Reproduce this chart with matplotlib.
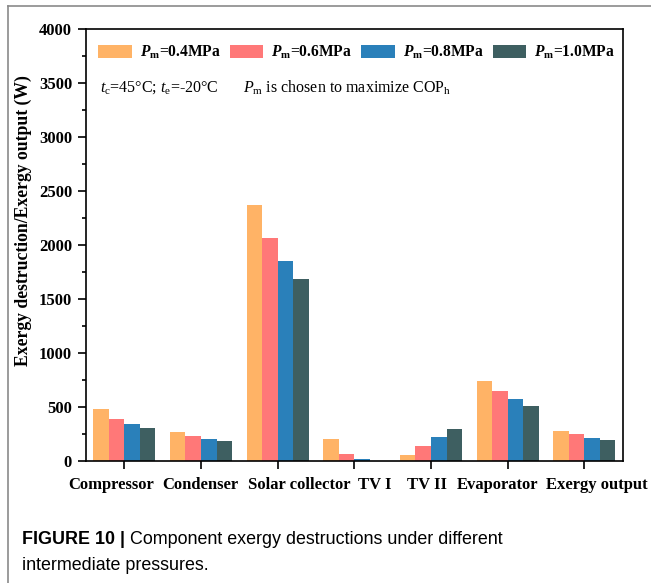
import matplotlib
matplotlib.use("Agg")
import matplotlib.pyplot as plt
from matplotlib.lines import Line2D
from matplotlib.ticker import MultipleLocator
import numpy as np

plt.rcParams['font.family'] = ['Liberation Serif', 'DejaVu Serif']
plt.rcParams['mathtext.fontset'] = 'custom'
plt.rcParams['mathtext.rm'] = 'Liberation Serif'
plt.rcParams['mathtext.it'] = 'Liberation Serif:italic'
plt.rcParams['mathtext.bf'] = 'Liberation Serif:bold'
plt.rcParams['mathtext.bfit'] = 'Liberation Serif:italic:bold'

components = ["Compressor", "Condenser", "Solar collector", "TV I", "TV II",
              "Evaporator", "Exergy output"]
pressures = ["0.4", "0.6", "0.8", "1.0"]

ex_04 = [482, 266, 2376, 204, 58, 738, 282]
ex_06 = [389, 229, 2070, 68, 139, 645, 248]
ex_08 = [340, 207, 1851, 19, 219, 570, 217]
ex_10 = [309, 189, 1684, 0, 297, 511, 198]
series = [ex_04, ex_06, ex_08, ex_10]
colors = ["#FFB366", "#FF7878", "#2A80BA", "#3E5F61"]

W, H = 651, 583
fig = plt.figure(figsize=(W / 100, H / 100), dpi=100)
ax = fig.add_axes([86 / W, 1 - 461 / H, (622.7 - 86) / W, (461 - 29.3) / H])

x = np.arange(len(components))
w = 0.203
for i, (vals, c) in enumerate(zip(series, colors)):
    ax.bar(x + (i - 1.5) * w, vals, w, color=c,
           label=r"$\mathbfit{P}_{\mathbf{m}}$=" + pressures[i] + "MPa")

ax.set_xlim(-0.5, 6.5)
ax.set_ylim(0, 4000)
ax.set_xticks(x)
ax.set_xticklabels([])
ax.yaxis.set_major_locator(MultipleLocator(500))
ax.yaxis.set_minor_locator(MultipleLocator(250))
for lab in ax.get_yticklabels():
    lab.set_fontweight("bold")
    lab.set_fontsize(12)
ax.tick_params(axis="both", which="major", direction="out", length=6, width=1.2, pad=4)
ax.tick_params(axis="y", which="minor", direction="out", length=3, width=1.2)
for s in ax.spines.values():
    s.set_linewidth(1.2)
ax.set_ylabel("Exergy destruction/Exergy output (W)", fontweight="bold", fontsize=12.7)
ax.yaxis.set_label_coords(-0.10, 0.558)

# category names run as one spaced line under the axis
label_left = [68, 162, 248, 358, 407, 457, 546]
for name, xl in zip(components, label_left):
    fig.text(xl / W, 1 - 485 / H, name, fontweight="bold", fontsize=12, va="center")

ax.legend(loc="upper left", ncol=4, frameon=False, prop={"weight": "bold", "size": 11.2},
          handlelength=2.15, handleheight=0.95, handletextpad=0.5, columnspacing=0.6,
          bbox_to_anchor=(0.0, 0.995), borderaxespad=0.4)

ax.text(0.026, 0.864, r"$t_{\rm c}$=45°C; $t_{\rm e}$=-20°C", transform=ax.transAxes,
        fontsize=11.5, va="center")
ax.text(0.292, 0.864, r"$P_{\rm m}$ is chosen to maximize COP$_{\rm h}$", transform=ax.transAxes,
        fontsize=11.5, va="center")

# page frame lines (top and left)
fig.add_artist(Line2D([8 / W, 1], [1 - 6 / H, 1 - 6 / H], transform=fig.transFigure,
                      color="#8a8a8a", lw=1.2))
fig.add_artist(Line2D([8 / W, 8 / W], [0, 1 - 6 / H], transform=fig.transFigure,
                      color="#8a8a8a", lw=1.2))

# caption: bold lead-in, then the rest placed right after it
cap_size = 12.9
head = fig.text(22 / W, 1 - 540 / H, "FIGURE 10", family="Liberation Sans", fontweight="bold",
                fontsize=cap_size, va="center")
fig.canvas.draw()
bb = head.get_window_extent(fig.canvas.get_renderer())
bar = fig.text((bb.x1 + 5) / W, 1 - 540 / H, "|", family="Liberation Sans", fontweight="bold",
               fontsize=cap_size, va="center")
fig.canvas.draw()
bb = bar.get_window_extent(fig.canvas.get_renderer())
fig.text((bb.x1 + 5) / W, 1 - 540 / H, "Component exergy destructions under different",
         family="Liberation Sans", fontsize=cap_size, va="center")
fig.text(22 / W, 1 - 566 / H, "intermediate pressures.", family="Liberation Sans",
         fontsize=cap_size, va="center")

fig.savefig("out.png", dpi=100)
